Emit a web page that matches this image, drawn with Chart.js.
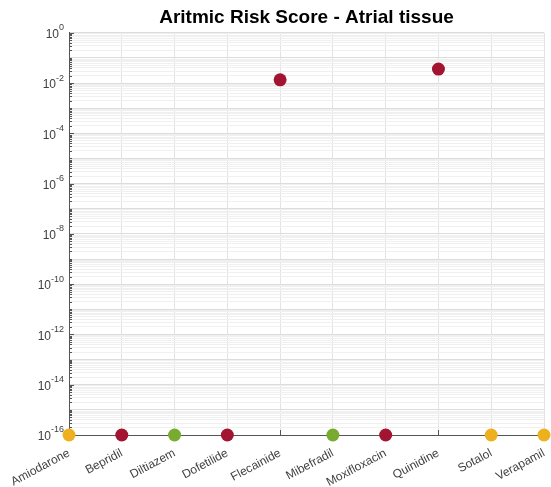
<!DOCTYPE html>
<html>
<head>
<meta charset="utf-8">
<script src="https://cdn.jsdelivr.net/npm/chart.js@4.4.1/dist/chart.umd.min.js"></script>
<style>
  html, body { margin: 0; padding: 0; background: #fff; }
  #wrap { width: 551px; height: 487px; }
</style>
</head>
<body>
<div id="wrap"><canvas id="chart" width="551" height="487"></canvas></div>
<script>
'use strict';

// drugs along the x axis
let drugs = ['Amiodarone', 'Bepridil', 'Diltiazem', 'Dofetilide', 'Flecainide',
  'Mibefradil', 'Moxifloxacin', 'Quinidine', 'Sotalol', 'Verapamil'];

// risk score per drug (zeros sit on the 1e-16 floor)
let riskScore = [1e-16, 1e-16, 1e-16, 1e-16, 1.35e-2, 1e-16, 1e-16, 3.6e-2, 1e-16, 1e-16];

// risk class per drug -> colour
let riskClass = ['mid', 'high', 'low', 'high', 'high', 'low', 'high', 'high', 'mid', 'mid'];
let classColors = { high: '#A2142F', mid: '#EDB120', low: '#77AC30' };

// labelled decades on the y axis
let tickExponents = [0, -2, -4, -6, -8, -10, -12, -14, -16];

let canvasElem = document.getElementById('chart');
let pointColors = riskClass.map(c => classColors[c]);

// all minor + major log ticks between 1e-16 and 1e0
function logTicks() {
  let ticks = [];
  for (let e = -16; e < 0; e++) {
    for (let m = 1; m <= 9; m++) {
      ticks.push({ value: m * Math.pow(10, e), major: m === 1 });
    }
  }
  ticks.push({ value: 1, major: true });
  return ticks;
}

function isLabelled(v) {
  let e = Math.round(Math.log10(v));
  return Math.abs(v - Math.pow(10, e)) < Math.pow(10, e) * 1e-6 && tickExponents.includes(e);
}

// MATLAB style inward ticks (under the markers) and 10^n labels
let axisDecor = {
  id: 'axisDecor',
  beforeDatasetsDraw(chart) {
    let ctx = chart.ctx;
    let y = chart.scales.y;
    let x = chart.scales.x;
    let area = chart.chartArea;
    ctx.save();
    ctx.strokeStyle = '#555';
    ctx.lineWidth = 1;
    y.ticks.forEach(t => {
      let py = Math.round(y.getPixelForValue(t.value)) + 0.5;
      let len = isLabelled(t.value) ? 5 : 3;
      ctx.beginPath();
      ctx.moveTo(area.left, py);
      ctx.lineTo(area.left + len, py);
      ctx.stroke();
    });
    drugs.forEach((d, i) => {
      let px = Math.round(x.getPixelForValue(i)) + 0.5;
      ctx.beginPath();
      ctx.moveTo(px, area.bottom);
      ctx.lineTo(px, area.bottom - 5);
      ctx.stroke();
    });
    ctx.restore();
  },
  afterDraw(chart) {
    let ctx = chart.ctx;
    let y = chart.scales.y;
    let area = chart.chartArea;
    ctx.save();
    ctx.fillStyle = '#404040';
    ctx.textBaseline = 'middle';
    ctx.textAlign = 'left';
    tickExponents.forEach(e => {
      let py = y.getPixelForValue(Math.pow(10, e));
      let expText = e === 0 ? '0' : '-' + Math.abs(e);
      ctx.font = '12px "Liberation Sans", Arial, sans-serif';
      let wBase = ctx.measureText('10').width;
      ctx.font = '9px "Liberation Sans", Arial, sans-serif';
      let wExp = ctx.measureText(expText).width;
      let start = area.left - 5 - wBase - wExp;
      ctx.font = '12px "Liberation Sans", Arial, sans-serif';
      ctx.fillText('10', start, py + 2);
      ctx.font = '9px "Liberation Sans", Arial, sans-serif';
      ctx.fillText(expText, start + wBase, py - 5);
    });
    ctx.restore();
  }
};

function renderChart() {
  new Chart(canvasElem, {
    type: 'line',
    data: {
      labels: drugs,
      datasets: [{
        label: 'Risk score',
        data: riskScore,
        showLine: false,
        pointRadius: 6.5,
        pointHoverRadius: 6.5,
        pointBackgroundColor: pointColors,
        pointBorderColor: pointColors,
        pointBorderWidth: 0,
        clip: false
      }]
    },
    options: {
      responsive: false,
      animation: false,
      layout: { padding: { left: 0, right: 7, top: 0, bottom: 0 } },
      plugins: {
        legend: { display: false },
        tooltip: { enabled: false },
        title: {
          display: true,
          fullSize: false,
          text: 'Aritmic Risk Score - Atrial tissue',
          color: '#000',
          font: { family: '"Liberation Sans", Arial, sans-serif', size: 19, weight: 'bold' },
          padding: { top: 6, bottom: 4 }
        }
      },
      scales: {
        x: {
          type: 'category',
          offset: false,
          grid: { color: '#e3e3e3', drawTicks: false },
          border: { display: true, color: '#555', width: 1 },
          ticks: {
            color: '#404040',
            font: { family: '"Liberation Sans", Arial, sans-serif', size: 12 },
            minRotation: 28,
            maxRotation: 28,
            autoSkip: false,
            padding: 11
          },
          afterFit(scale) {
            scale.height = 52;
            scale.paddingLeft = 0;
            scale.paddingRight = 0;
          }
        },
        y: {
          type: 'logarithmic',
          min: 1e-16,
          max: 1,
          afterBuildTicks(scale) { scale.ticks = logTicks(); },
          grid: {
            drawTicks: false,
            color(ctx) {
              if (!ctx.tick) return '#f0f0f0';
              return ctx.tick.major ? '#dcdcdc' : '#f0f0f0';
            }
          },
          border: { display: true, color: '#555', width: 1 },
          ticks: {
            color: 'rgba(0,0,0,0)',
            autoSkip: false,
            callback() { return ''; }
          },
          afterFit(scale) { scale.width = 69; }
        }
      }
    },
    plugins: [axisDecor]
  });
}

renderChart();
</script>
</body>
</html>
